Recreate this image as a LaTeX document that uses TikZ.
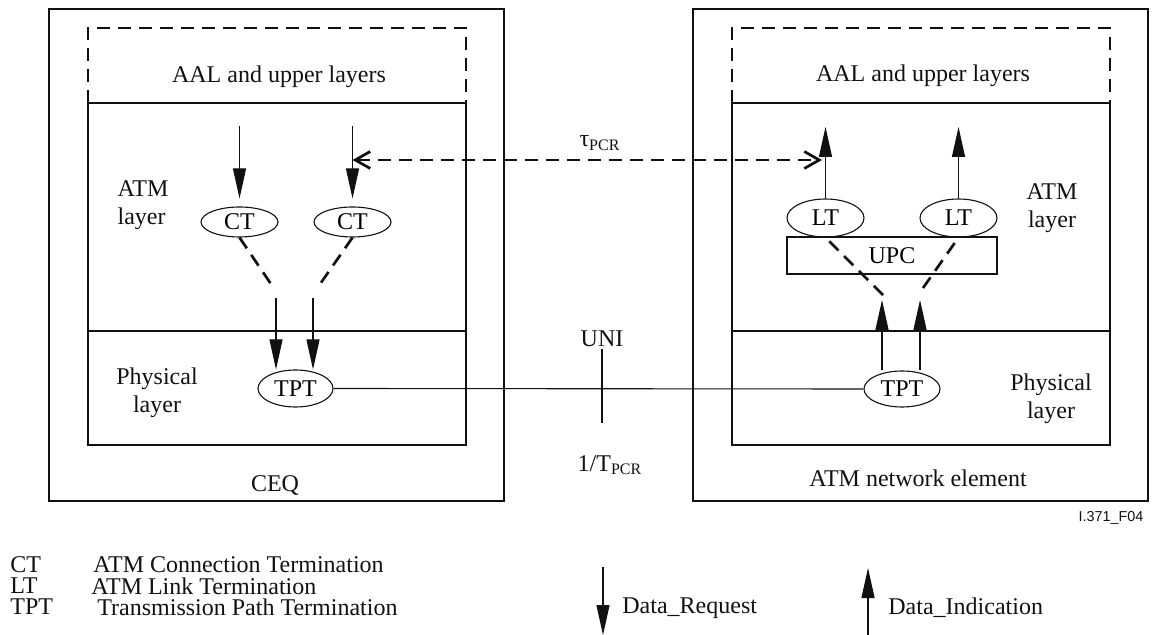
\documentclass[tikz,border=0pt]{standalone}
\usepackage{fontspec}
\setmainfont{Liberation Serif}
\newfontfamily\tagfont{Liberation Sans}
\usepackage{tikz}
\usetikzlibrary{arrows.meta,positioning,shapes.geometric}
\definecolor{ink}{HTML}{111111}
\tikzset{
  frame/.style={draw=ink,line width=0.55pt},
  divider/.style={draw=ink,line width=0.9pt},
  dline/.style={draw=ink,line width=1.35pt,dash pattern=on 6.5pt off 4pt},
  lbl/.style={font=\fontsize{12}{14}\selectfont,align=center,text=ink},
  key/.style={lbl,anchor=west,inner sep=0pt},
  term/.style={ellipse,draw=ink,line width=0.55pt,inner sep=0pt,minimum width=38.5pt,minimum height=15pt,font=\fontsize{12}{14}\selectfont},
  upcbox/.style={draw=ink,line width=0.55pt,inner sep=0pt,minimum width=105pt,minimum height=18.5pt,font=\fontsize{12}{14}\selectfont},
  darr/.style={-{Triangle[length=15pt,width=6.5pt]},line width=0.55pt,draw=ink,fill=ink},
  tarr/.style={dline,{Straight Barb[length=7.5pt,width=8.5pt,line width=1.35pt]}-{Straight Barb[length=7.5pt,width=8.5pt,line width=1.35pt]}},
}
\begin{document}
\begin{tikzpicture}[x=0.5pt,y=-0.5pt]
  \useasboundingbox (0,0) rectangle (1155,635);
  % equipment frames
  \draw[frame] (49,9) rectangle (504,501);
  \draw[frame] (693,9) rectangle (1148,501);
  % layer stacks
  \foreach \l/\r in {88/466,732/1110}{
    \draw[dline] (\l,103) -- (\l,28) -- (\r,28) -- (\r,103);
    \draw[frame] (\l,103) rectangle (\r,445);
    \draw[divider] (\l,331) -- (\r,331);
  }

  \node[lbl] (aalL) at (279,77) {AAL and upper layers};
  \node[lbl] (aalR) at (923,76) {AAL and upper layers};
  \node[lbl,align=left] (atmL) at (143,205) {ATM\\layer};
  \node[lbl] (atmR) at (1052,208) {ATM\\layer};
  \node[lbl] (phyL) at (157,393) {Physical\\layer};
  \node[lbl] (phyR) at (1051,399) {Physical\\layer};
  \node[lbl] (ceq) at (275,485) {CEQ};
  \node[lbl] (neq) at (918,478) {ATM network element};

  % terminations
  \node[term] (ctA) at (239.5,222) {CT};
  \node[term] (ctB) at (352.5,222) {CT};
  \node[term,minimum width=37.5pt,minimum height=18.5pt] (tptL) at (295.5,388.5) {TPT};
  \node[upcbox] (upc) at (892,255.5) {UPC};
  \node[term,minimum height=19pt] (ltA) at (825.5,218) {LT};
  \node[term,minimum height=19pt] (ltB) at (958.5,218) {LT};
  \node[term,minimum width=38pt,minimum height=18pt] (tptR) at (902,389) {TPT};

  % CEQ side
  \coordinate (qA) at (239.5,126);
  \coordinate (qB) at (352.5,126);
  \draw[darr,shorten >=4pt] (qA) -- (ctA);
  \draw[darr,shorten >=4pt] (qB) -- (ctB);
  \coordinate (mA) at (273,287);
  \coordinate (mB) at (318,287);
  \draw[dline] (ctA.south) -- (mA);
  \draw[dline] (ctB.south) -- (mB);
  \coordinate (sA) at (276,298);
  \coordinate (sB) at (313,298);
  \draw[darr] (sA) -- (sA |- tptL.north);
  \draw[darr] (sB) -- (sB |- tptL.north);

  % network side
  \coordinate (uA) at (882,300);
  \coordinate (uB) at (920,300);
  \draw[darr] (uA |- tptR.north) -- (uA);
  \draw[darr] (uB |- tptR.north) -- (uB);
  \coordinate (nA) at (883,295);
  \coordinate (nB) at (923,288);
  \draw[dline] (nA) -- (ltA.south);
  \draw[dline] (nB) -- (ltB.south);
  \coordinate (rA) at (825.5,127);
  \coordinate (rB) at (958.5,127);
  \draw[darr] (ltA) -- (rA);
  \draw[darr] (ltB) -- (rB);

  % tolerance and interface
  \coordinate (tauL) at (352.5,160);
  \coordinate (tauR) at (822,160);
  \draw[tarr] (tauL) -- (tauR);
  \node[lbl] (tau) at (600,143) {τ\textsubscript{PCR}};
  \draw[frame] (tptL.east) -- (tptR.west);
  \node[lbl,inner sep=1pt] (uni) at (602,339) {UNI};
  \coordinate (uniEnd) at (602,423);
  \draw[frame] (uni) -- (uniEnd);
  \node[lbl] (pcr) at (610,465) {1/T\textsubscript{PCR}};
  \node[font=\tagfont\fontsize{7.2}{8}\selectfont,text=ink] (tag) at (1111,518) {I.371\_F04};

  % legend
  \node[key] (kCT) at (10,565) {CT};
  \node[key] (kLT) at (10,586) {LT};
  \node[key] (kTPT) at (10,607) {TPT};
  \node[key] (dCT) at (93,565) {ATM Connection Termination};
  \node[key] (dLT) at (91,586) {ATM Link Termination};
  \node[key] (dTPT) at (97,607) {Transmission Path Termination};
  \coordinate (reqA) at (603,567);
  \coordinate (reqB) at (603,635);
  \draw[darr] (reqA) -- (reqB);
  \node[key] (req) at (622,608) {Data\_Request};
  \coordinate (indA) at (868,635);
  \coordinate (indB) at (868,568);
  \draw[darr] (indA) -- (indB);
  \node[key] (ind) at (888,608) {Data\_Indication};
\end{tikzpicture}
\end{document}
